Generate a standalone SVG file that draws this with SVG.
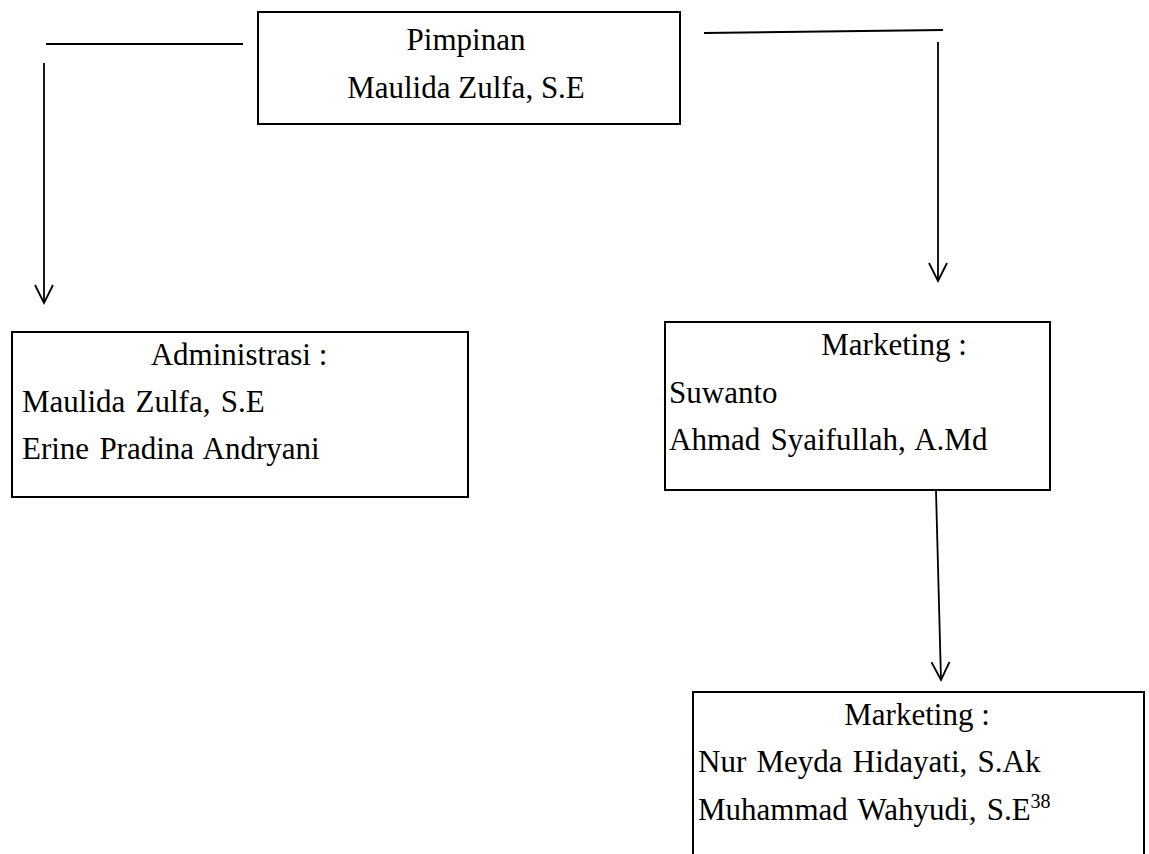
<svg xmlns="http://www.w3.org/2000/svg" width="1149" height="854" viewBox="0 0 1149 854">
<style>
.box{fill:#fff;stroke:#000;stroke-width:2}
.ln{fill:none;stroke:#000;stroke-width:1.8}
.t{font-family:"Liberation Serif","Times New Roman",serif;font-size:31px;fill:#000}
.c{text-anchor:middle}
.l{word-spacing:2.5px}
.sup{font-size:20px}
</style>
<defs>
<marker id="arr" viewBox="-20 -11 22 22" refX="0" refY="0" markerWidth="22" markerHeight="22" markerUnits="userSpaceOnUse" orient="auto">
<path d="M-18,-9 L0,0 L-18,9" fill="none" stroke="#000" stroke-width="1.8"/>
</marker>
</defs>
<rect width="1149" height="854" fill="#fff"/>
<g id="connectors">
<line class="ln" x1="46" y1="44" x2="243" y2="44"/>
<line class="ln" x1="44" y1="63" x2="44" y2="303" marker-end="url(#arr)"/>
<line class="ln" x1="704" y1="33" x2="943" y2="30"/>
<line class="ln" x1="938" y1="42" x2="938" y2="281" marker-end="url(#arr)"/>
<line class="ln" x1="936" y1="491" x2="941" y2="680" marker-end="url(#arr)"/>
</g>
<g id="pimpinan">
<rect class="box" x="258" y="12" width="422" height="112"/>
<text class="t c" x="466" y="50">Pimpinan</text>
<text class="t c" x="466" y="98">Maulida Zulfa, S.E</text>
</g>
<g id="administrasi">
<rect class="box" x="12" y="332" width="456" height="165"/>
<text class="t c" x="239" y="365">Administrasi :</text>
<text class="t l" x="22" y="412">Maulida Zulfa, S.E</text>
<text class="t l" x="22" y="459">Erine Pradina Andryani</text>
</g>
<g id="marketing1">
<rect class="box" x="665" y="322" width="385" height="168"/>
<text class="t c" x="894" y="355">Marketing :</text>
<text class="t l" x="669" y="403">Suwanto</text>
<text class="t l" x="669" y="450">Ahmad Syaifullah, A.Md</text>
</g>
<g id="marketing2">
<rect class="box" x="693" y="692" width="451" height="200"/>
<text class="t c" x="917" y="725">Marketing :</text>
<text class="t l" x="698" y="772">Nur Meyda Hidayati, S.Ak</text>
<text class="t l" x="698" y="820">Muhammad Wahyudi, S.E<tspan class="sup" dy="-12">38</tspan></text>
</g>
</svg>
